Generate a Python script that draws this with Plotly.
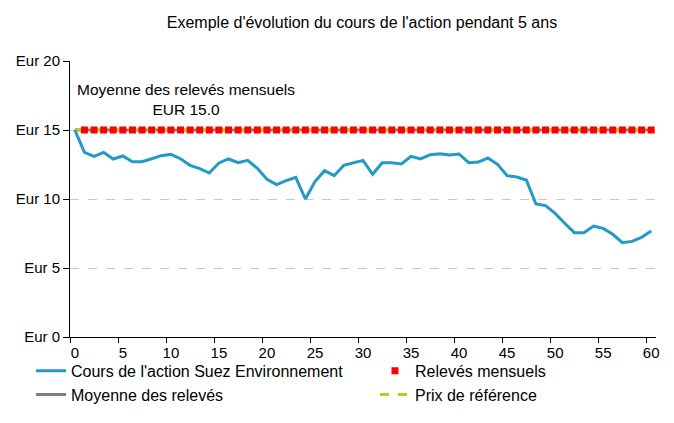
import plotly.graph_objects as go

# mois 0..60 (5 ans)
mois = list(range(61))

# cours de l'action
cours = [15.0, 13.38, 13.09, 13.38, 12.9, 13.12, 12.7, 12.7, 12.92, 13.14,
         13.24, 12.92, 12.44, 12.2, 11.88, 12.61, 12.9, 12.63, 12.8, 12.22,
         11.43, 11.04, 11.33, 11.57, 10.0, 11.26, 12.05, 11.69, 12.44, 12.63,
         12.8, 11.79, 12.63, 12.63, 12.54, 13.09, 12.9, 13.21, 13.28, 13.19,
         13.26, 12.63, 12.68, 12.97, 12.51, 11.69, 11.59, 11.38, 9.64, 9.52,
         8.96, 8.24, 7.56, 7.56, 8.04, 7.87, 7.44, 6.83, 6.93, 7.22,
         7.68]

# relevés mensuels (mois 1 à 60)
releves_mois = mois[1:]
releves = [15.0] * 60
moyenne = [15.0] * 61
prix_ref = [15.0] * 61

y_ticks = [0, 5, 10, 15, 20]
y_labels = ["Eur 0", "Eur 5", "Eur 10", "Eur 15", "Eur 20"]
x_ticks = [0, 5, 10, 15, 20, 25, 30, 35, 40, 45, 50, 55, 60]

FONT = "Liberation Sans, Arial, sans-serif"

fig = go.Figure()

fig.add_trace(go.Scatter(x=mois, y=moyenne, mode='lines', name='Moyenne des relevés',
                         line=dict(color='#808080', width=3), legend='legend'))
fig.add_trace(go.Scatter(x=mois, y=prix_ref, mode='lines', name='Prix de référence',
                         line=dict(color='#B8CC1E', width=3, dash='dash'), legend='legend2'))
fig.add_trace(go.Scatter(x=releves_mois, y=releves, mode='markers', name='Relevés mensuels',
                         marker=dict(color='#FF0000', size=7, symbol='square'), legend='legend2'))
fig.add_trace(go.Scatter(x=mois, y=cours, mode='lines', name="Cours de l'action Suez Environnement",
                         line=dict(color='#2399C8', width=3), legend='legend'))

fig.add_annotation(x=11.6, y=17.2, xref='x', yref='y', showarrow=False,
                   text="Moyenne des relevés mensuels<br>EUR 15.0",
                   font=dict(size=15.5, color='black', family=FONT), align='center')

# la page ajoute ~8px de marge autour du graphique : figure un peu plus petite
fig.update_layout(
    width=666, height=415,
    margin=dict(l=20, r=18, t=53, b=10),
    paper_bgcolor='white', plot_bgcolor='white',
    font=dict(family=FONT, size=15, color='black'),
    title=dict(text="Exemple d'évolution du cours de l'action pendant 5 ans",
               x=0.5315, xanchor='center', y=0.966, yanchor='middle',
               font=dict(size=16, family=FONT, color='black')),
    legend=dict(x=0.0048, y=0.168, xanchor='left', yanchor='top', traceorder='reversed',
                bgcolor='rgba(0,0,0,0)', font=dict(size=16), itemwidth=30, tracegroupgap=0),
    legend2=dict(x=0.5525, y=0.168, xanchor='left', yanchor='top', traceorder='reversed',
                 bgcolor='rgba(0,0,0,0)', font=dict(size=16), itemwidth=30, tracegroupgap=0),
)

fig.update_xaxes(domain=[0.0669, 1], range=[-0.5, 60.5], tickmode='array', tickvals=x_ticks,
                 ticks='', showgrid=False, zeroline=False, ticklabelstandoff=2,
                 showline=True, linecolor='black', linewidth=1, automargin=False,
                 minor=dict(ticks='outside', ticklen=5, tickcolor='black',
                            tick0=-0.5, dtick=5, showgrid=False),
                 tickfont=dict(size=15))
fig.update_yaxes(domain=[0.2159, 1], range=[0, 20], tickmode='array', tickvals=y_ticks,
                 ticktext=y_labels, ticks='outside', ticklen=6, tickcolor='black',
                 showgrid=True, gridcolor='#C8C8C8', griddash='dash', gridwidth=1,
                 zeroline=False, showline=True, linecolor='black', linewidth=1,
                 automargin=False, tickfont=dict(size=15))

fig.write_html("out.html")
